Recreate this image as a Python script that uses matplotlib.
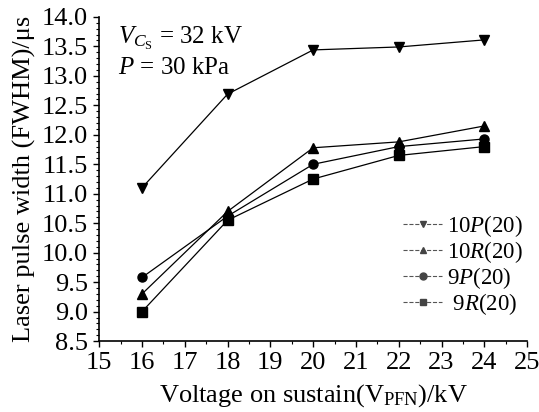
import matplotlib
matplotlib.use("Agg")
import matplotlib.pyplot as plt
from matplotlib.ticker import MultipleLocator, FormatStrFormatter
from matplotlib.lines import Line2D

plt.rcParams['font.family'] = ['Liberation Serif', 'DejaVu Serif']
plt.rcParams['mathtext.fontset'] = 'custom'
plt.rcParams['mathtext.rm'] = 'Liberation Serif'
plt.rcParams['mathtext.it'] = 'Liberation Serif:italic'

# data
voltage = [16, 18, 20, 22, 24]
p10_20 = [11.1, 12.69, 13.44, 13.49, 13.61]
r10_20 = [9.3, 10.7, 11.78, 11.88, 12.15]
p9_20 = [9.58, 10.62, 11.5, 11.8, 11.93]
r9_20 = [9.0, 10.55, 11.25, 11.65, 11.8]

labels = ['10$P$(20)', '10$R$(20)', '9$P$(20)', ' 9$R$(20)']
markers = ['v', '^', 'o', 's']

fig = plt.figure(figsize=(5.39, 4.12), dpi=100)
ax = fig.add_axes([0.184, 0.172, 0.794, 0.787])

for y, m in zip([p10_20, r10_20, p9_20, r9_20], markers):
    ax.plot(voltage, y, '-', marker=m, color='black', lw=0.9, ms=6.5)

ax.set_xlim(15, 25)
ax.set_ylim(8.5, 14.0)
ax.xaxis.set_major_locator(MultipleLocator(1))
ax.xaxis.set_minor_locator(MultipleLocator(0.5))
ax.yaxis.set_major_locator(MultipleLocator(0.5))
ax.yaxis.set_minor_locator(MultipleLocator(0.1))
ax.yaxis.set_major_formatter(FormatStrFormatter('%.1f'))

for s in ['top', 'right']:
    ax.spines[s].set_visible(False)
ax.spines['left'].set_linewidth(1.2)
ax.spines['bottom'].set_linewidth(1.2)
ax.tick_params(which='major', direction='out', length=4, width=1, labelsize=19, pad=4)
ax.tick_params(which='minor', direction='out', length=2, width=0.8)

ax.set_xlabel('Voltage on sustain(V$_{\\mathrm{PFN}}$)/kV', fontsize=19, labelpad=6)
ax.set_ylabel('Laser pulse width (FWHM)/μs', fontsize=19, labelpad=4)

ax.text(0.045, 0.975, '$V_{C_{\\mathrm{S}}}$ = 32 kV', transform=ax.transAxes,
        fontsize=18, va='top')
ax.text(0.045, 0.875, '$P$ = 30 kPa', transform=ax.transAxes,
        fontsize=18, va='top')

handles = [Line2D([], [], color='#555555', ls='--', lw=0.8, marker=m,
                  ms=5, mfc='#444444', mec='#444444') for m in markers]
ax.legend(handles, labels, loc='upper right', bbox_to_anchor=(0.99, 0.395),
          frameon=False, fontsize=16.5, handlelength=1.7, handletextpad=0.2,
          labelspacing=0.0, borderaxespad=0.0, borderpad=0.0)

fig.savefig('out.png', dpi=100)
